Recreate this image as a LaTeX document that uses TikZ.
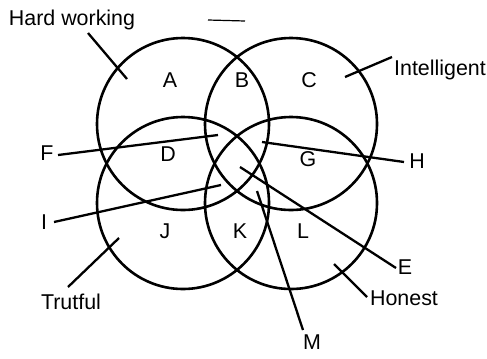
\documentclass[tikz,border=0pt]{standalone}
\usepackage{fontspec}
\setmainfont{Liberation Sans}
\begin{document}
\begin{tikzpicture}[x=1bp,y=-1bp,
  ring/.style={draw=black,line width=2.6bp,circle,minimum size=172bp,inner sep=0pt},
  lbl/.style={font=\fontsize{21.5}{24}\selectfont,inner sep=0pt},
  ptr/.style={draw=black,line width=2.3bp}]
\useasboundingbox (0,0) rectangle (487,358);
% circles
\node[ring] (hw) at (183,124) {};
\node[ring] (in) at (291,124) {};
\node[ring] (tr) at (183,203) {};
\node[ring] (ho) at (291,203) {};
% region letters
\node[lbl] (A) at (170,80) {A};
\node[lbl] (B) at (242,80) {B};
\node[lbl] (C) at (309,80) {C};
\node[lbl] (D) at (168,154) {D};
\node[lbl] (G) at (308,159) {G};
\node[lbl] (J) at (165,231) {J};
\node[lbl] (K) at (240,231) {K};
\node[lbl] (L) at (303,231) {L};
% outside labels
\node[lbl] (hwt) at (72,20) {Hard working};
\node[lbl] (int) at (440,70) {Intelligent};
\node[lbl] (trt) at (71,302) {Trutful};
\node[lbl] (hot) at (404,298) {Honest};
\node[lbl] (F) at (47,153) {F};
\node[lbl] (H) at (417,161) {H};
\node[lbl] (I) at (44,222) {I};
\node[lbl] (E) at (405,267) {E};
\node[lbl] (M) at (312,342) {M};
% pointer ends
\coordinate (phw) at (127,79);
\coordinate (pin) at (345,77);
\coordinate (ptr) at (119,238);
\coordinate (pho) at (334,264);
\coordinate (pF) at (218,135);
\coordinate (pH) at (262,142);
\coordinate (pI) at (221,185);
\coordinate (pE) at (240,167);
\coordinate (pM) at (257,191);
\coordinate (sF) at (58,155);
\coordinate (sH) at (404,162);
\coordinate (sI) at (54,222);
\coordinate (sE) at (396,268);
\coordinate (sM) at (303,330);
\coordinate (shw) at (88,33);
\coordinate (sin) at (392,57);
\coordinate (str) at (68,287);
\coordinate (sho) at (367,297);
\draw[ptr] (shw) -- (phw);
\draw[ptr] (sin) -- (pin);
\draw[ptr] (str) -- (ptr);
\draw[ptr] (sho) -- (pho);
\draw[ptr] (sF) -- (pF);
\draw[ptr] (sH) -- (pH);
\draw[ptr] (sI) -- (pI);
\draw[ptr] (sE) -- (pE);
\draw[ptr] (sM) -- (pM);
% short dash at top
\coordinate (d1) at (208,20);
\coordinate (d2) at (245,21);
\draw[line width=1.2bp] (d1) -- (d2);
\end{tikzpicture}
\end{document}
